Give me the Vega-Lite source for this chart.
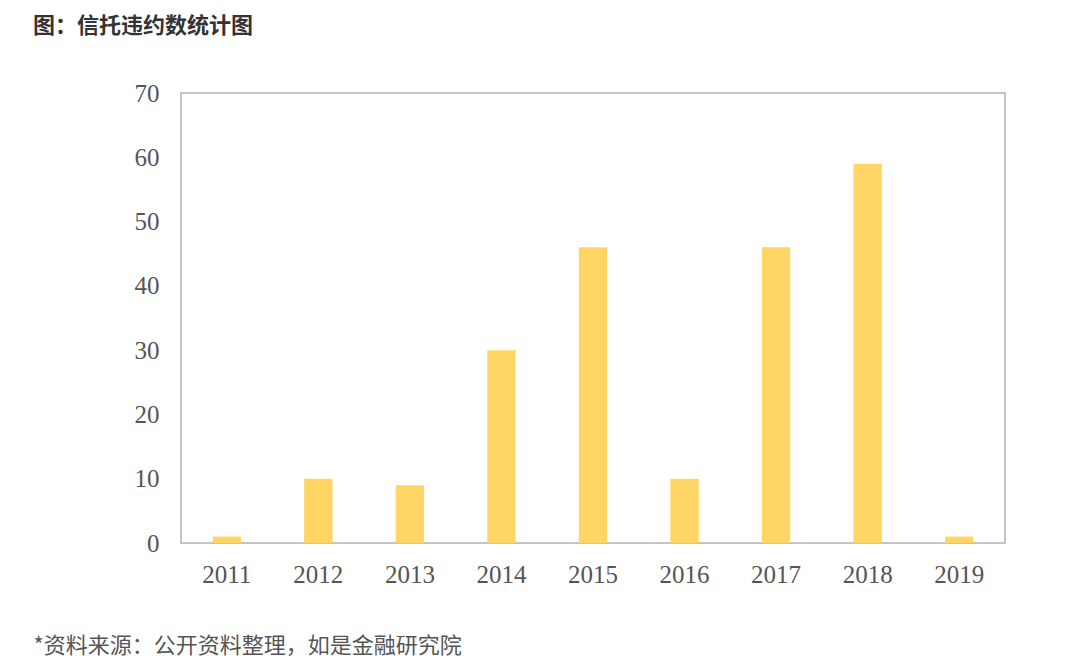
{
  "$schema": "https://vega.github.io/schema/vega-lite/v6.json",
  "autosize": "none",
  "width": 824,
  "height": 450,
  "padding": {"left": 181, "top": 93, "right": 75, "bottom": 115},
  "background": "white",
  "title": {
    "text": "图：信托违约数统计图",
    "anchor": "start",
    "frame": "group",
    "dx": -148,
    "offset": 43,
    "font": "Noto Sans CJK SC",
    "fontSize": 22,
    "fontWeight": "bold",
    "color": "#333333"
  },
  "data": {
    "values": [
      {"year": "2011", "count": 1},
      {"year": "2012", "count": 10},
      {"year": "2013", "count": 9},
      {"year": "2014", "count": 30},
      {"year": "2015", "count": 46},
      {"year": "2016", "count": 10},
      {"year": "2017", "count": 46},
      {"year": "2018", "count": 59},
      {"year": "2019", "count": 1}
    ]
  },
  "mark": {"type": "bar", "color": "#FFD666"},
  "encoding": {
    "x": {
      "field": "year",
      "type": "ordinal",
      "scale": {"paddingInner": 0.69, "paddingOuter": 0.345},
      "axis": {
        "title": "*资料来源：公开资料整理，如是金融研究院",
        "titleFont": "Noto Sans CJK SC",
        "titleFontSize": 22,
        "titleFontWeight": "normal",
        "titleColor": "#555555",
        "titleAnchor": "start",
        "titleAlign": "left",
        "titleBaseline": "middle",
        "titleX": -148,
        "titleY": 102,
        "labelAngle": 0,
        "labelFont": "Liberation Serif",
        "labelFontSize": 25,
        "labelColor": "#555555",
        "labelPadding": 19,
        "ticks": false,
        "domain": false
      }
    },
    "y": {
      "field": "count",
      "type": "quantitative",
      "scale": {"domain": [0, 70]},
      "axis": {
        "title": null,
        "values": [0, 10, 20, 30, 40, 50, 60, 70],
        "labelFont": "Liberation Serif",
        "labelFontSize": 25,
        "labelColor": "#555555",
        "labelPadding": 22,
        "ticks": false,
        "domain": false,
        "grid": false
      }
    }
  },
  "config": {
    "view": {"stroke": "#c4c4c4", "strokeWidth": 2}
  }
}
